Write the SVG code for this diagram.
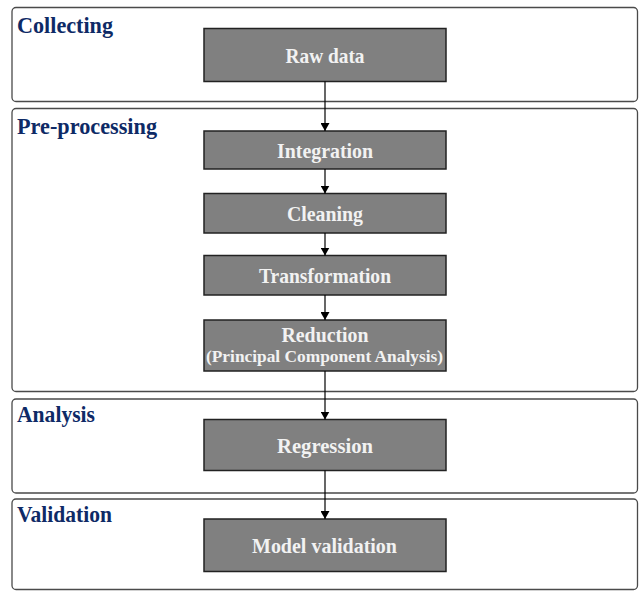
<svg xmlns="http://www.w3.org/2000/svg" width="640" height="591" viewBox="0 0 640 591">
  <style>
    .panel { fill: #ffffff; stroke: #4a4a4a; stroke-width: 1.3; }
    .stage { font-family: "Liberation Serif", "Times New Roman", serif; font-weight: bold; font-size: 24px; fill: #0e2a66; }
    .box { fill: #808080; stroke: #222222; stroke-width: 1.5; }
    .lbl { font-family: "Liberation Serif", "Times New Roman", serif; font-weight: bold; font-size: 21px; fill: #f2f2f2; text-anchor: middle; }
    .sub { font-size: 17px; }
    .edge { stroke: #000000; stroke-width: 1.2; fill: none; marker-end: url(#arrow); }
  </style>
  <defs>
    <marker id="arrow" markerWidth="8" markerHeight="9" refX="8" refY="4.5" orient="auto" markerUnits="userSpaceOnUse">
      <path d="M0,0 L8,4.5 L0,9 Z" fill="#000000"/>
    </marker>
  </defs>

  <!-- stage panels -->
  <g id="stage-collecting">
    <rect class="panel" x="12" y="7.5" width="625.5" height="94" rx="4"/>
    <text class="stage" x="17" y="33" textLength="96" lengthAdjust="spacingAndGlyphs">Collecting</text>
  </g>
  <g id="stage-preprocessing">
    <rect class="panel" x="12" y="108.5" width="625.5" height="283" rx="4"/>
    <text class="stage" x="17" y="134" textLength="140" lengthAdjust="spacingAndGlyphs">Pre-processing</text>
  </g>
  <g id="stage-analysis">
    <rect class="panel" x="12" y="399" width="625.5" height="94" rx="4"/>
    <text class="stage" x="17" y="422" textLength="78" lengthAdjust="spacingAndGlyphs">Analysis</text>
  </g>
  <g id="stage-validation">
    <rect class="panel" x="12" y="499" width="625.5" height="90.5" rx="4"/>
    <text class="stage" x="17" y="522" textLength="95" lengthAdjust="spacingAndGlyphs">Validation</text>
  </g>

  <!-- process steps -->
  <g id="raw-data">
    <rect class="box" x="204" y="28.5" width="242" height="53"/>
    <text class="lbl" x="325" y="63" textLength="79" lengthAdjust="spacingAndGlyphs">Raw data</text>
  </g>
  <g id="integration">
    <rect class="box" x="204" y="131" width="242" height="38"/>
    <text class="lbl" x="325" y="158" textLength="96" lengthAdjust="spacingAndGlyphs">Integration</text>
  </g>
  <g id="cleaning">
    <rect class="box" x="204" y="193.5" width="242" height="39.5"/>
    <text class="lbl" x="325" y="221" textLength="76" lengthAdjust="spacingAndGlyphs">Cleaning</text>
  </g>
  <g id="transformation">
    <rect class="box" x="204" y="255.5" width="242" height="39.5"/>
    <text class="lbl" x="325" y="283" textLength="132" lengthAdjust="spacingAndGlyphs">Transformation</text>
  </g>
  <g id="reduction">
    <rect class="box" x="204" y="320" width="242" height="51"/>
    <text class="lbl" x="325" y="341.5" textLength="87" lengthAdjust="spacingAndGlyphs">Reduction</text>
    <text class="lbl sub" x="324.5" y="362" textLength="237" lengthAdjust="spacingAndGlyphs">(Principal Component Analysis)</text>
  </g>
  <g id="regression">
    <rect class="box" x="204" y="419.5" width="242" height="51"/>
    <text class="lbl" x="325" y="453" textLength="96" lengthAdjust="spacingAndGlyphs">Regression</text>
  </g>
  <g id="model-validation">
    <rect class="box" x="204" y="519" width="242" height="52.5"/>
    <text class="lbl" x="324.5" y="553" textLength="145" lengthAdjust="spacingAndGlyphs">Model validation</text>
  </g>

  <!-- connectors -->
  <g id="connectors">
    <line class="edge" x1="325" y1="81.5" x2="325" y2="131"/>
    <line class="edge" x1="325" y1="169" x2="325" y2="193.5"/>
    <line class="edge" x1="325" y1="233" x2="325" y2="255.5"/>
    <line class="edge" x1="325" y1="295" x2="325" y2="320"/>
    <line class="edge" x1="325" y1="371" x2="325" y2="419.5"/>
    <line class="edge" x1="325" y1="470.5" x2="325" y2="519"/>
  </g>
</svg>
